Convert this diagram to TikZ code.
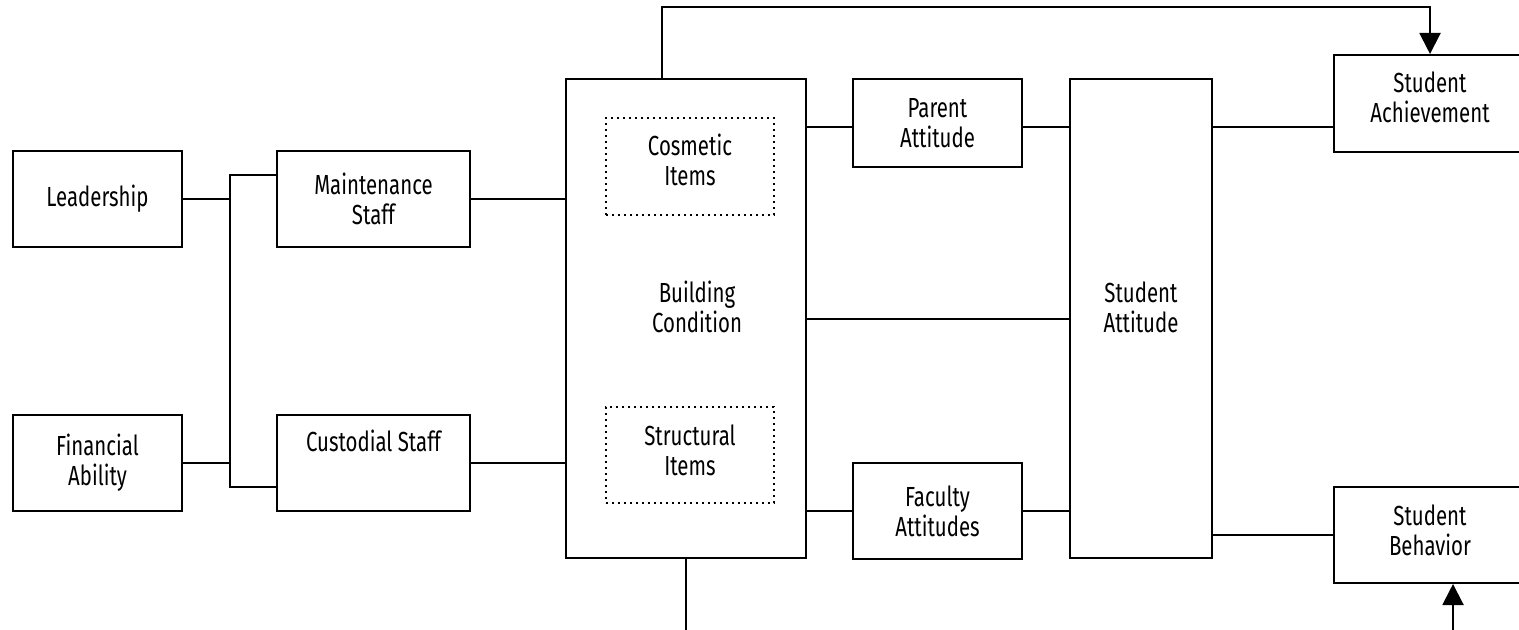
\documentclass[tikz,border=0pt]{standalone}
\usepackage{fontspec}
\setmainfont{Fira Sans}[FakeStretch=0.74]
\usetikzlibrary{arrows.meta}
\begin{document}
\begin{tikzpicture}[x=0.5pt,y=-0.5pt,
  txt/.style={align=center, inner sep=0pt, font=\fontsize{13.8}{15}\selectfont},
  box/.style={txt, draw, line width=1pt},
  itembox/.style={txt, draw, dotted, line width=1pt},
  link/.style={line width=1pt},
  arr/.style={line width=1pt, -{Triangle[length=10.5pt,width=10.5pt]}}]
\useasboundingbox (0,0) rectangle (1519,630);
\clip (0,0) rectangle (1519,630);

% inputs
\node[box, minimum width=84.5pt, minimum height=48pt] (lead) at (97.5,199) {Leadership};
\node[box, minimum width=84.5pt, minimum height=48pt] (fin) at (97.5,463) {Financial\\Ability};
\node[box, minimum width=96.5pt, minimum height=48pt] (maint) at (373.5,199) {Maintenance\\Staff};
\node[box, minimum width=96.5pt, minimum height=48pt] (cust) at (373.5,463) {};
\node[txt] (custtxt) at (373.5,441) {Custodial Staff};

% building condition with its two item groups
\node[box, minimum width=120pt, minimum height=239.5pt] (build) at (686,318.5) {};
\node[txt] (buildtxt) at (697,307) {Building\\Condition};
\node[itembox, minimum width=84pt, minimum height=48.5pt] (cosm) at (690,166.5) {};
\node[txt] (cosmtxt) at (690,160) {Cosmetic\\Items};
\node[itembox, minimum width=84pt, minimum height=48pt] (struct) at (690,455) {};
\node[txt] (structtxt) at (690,450) {Structural\\Items};

% attitudes
\node[box, minimum width=84.5pt, minimum height=44pt] (parent) at (937.5,123) {Parent\\Attitude};
\node[box, minimum width=84.5pt, minimum height=48pt] (fac) at (937.5,511) {Faculty\\Attitudes};
\node[box, minimum width=71pt, minimum height=239.5pt] (satt) at (1141,318.5) {};
\node[txt] (satttxt) at (1141,307) {Student\\Attitude};

% outcomes
\node[box, minimum width=96pt, minimum height=48.5pt] (ach) at (1430,103.5) {};
\node[txt] (achtxt) at (1430,97) {Student\\Achievement};
\node[box, minimum width=96pt, minimum height=48pt] (beh) at (1430,535) {};
\node[txt] (behtxt) at (1430,530) {Student\\Behavior};

% left bus
\coordinate (bus) at (230,0);
\draw[link] (lead.east) -- (bus |- lead.east);
\draw[link] (fin.east) -- (bus |- fin.east);
\draw[link] (maint.west |- 0,175) -| (bus |- 0,487) -- (cust.west |- 0,487);

% staff to building
\draw[link] (maint.east) -- (build.west |- maint.east);
\draw[link] (cust.east) -- (build.west |- cust.east);

% building to attitudes
\draw[link] (build.east |- 0,127) -- (parent.west |- 0,127);
\draw[link] (parent.east |- 0,127) -- (satt.west |- 0,127);
\draw[link] (build.east |- 0,319) -- (satt.west |- 0,319);
\draw[link] (build.east |- fac.west) -- (fac.west);
\draw[link] (fac.east) -- (satt.west |- fac.east);

% attitude to outcomes
\draw[link] (satt.east |- 0,127) -- (ach.west |- 0,127);
\draw[link] (satt.east |- beh.west) -- (beh.west);

% direct paths from building condition
\coordinate (loopT) at (662,7);
\draw[arr] (loopT |- build.north) -- (loopT) -| (ach.north);
\coordinate (loopB) at (1453,660);
\draw[arr] (build.south) |- (loopB) -- (loopB |- beh.south);
\end{tikzpicture}
\end{document}
